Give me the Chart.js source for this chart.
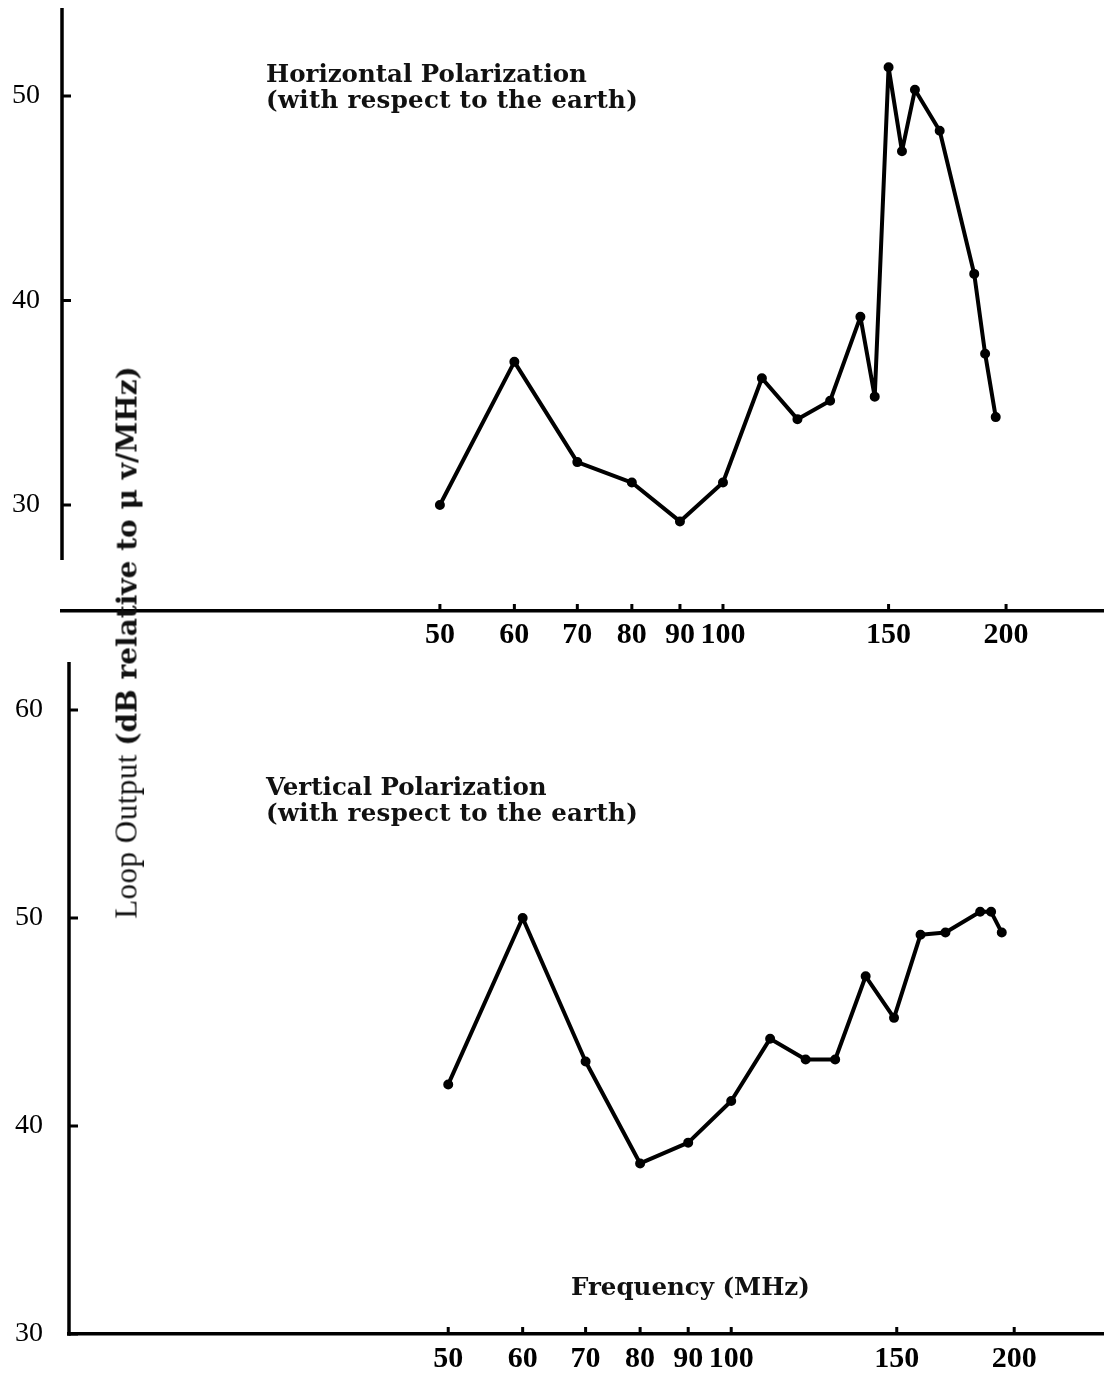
<!DOCTYPE html>
<html>
<head>
<meta charset="utf-8">
<title>Loop Output vs Frequency</title>
<script src="https://cdn.jsdelivr.net/npm/chart.js@4.4.1/dist/chart.umd.min.js"></script>
<style>
  html, body { margin: 0; padding: 0; background: #fff; }
  body { width: 1104px; height: 1373px; position: relative; overflow: hidden; }
  .panel { position: absolute; left: 0; width: 1104px; }
  #topPanel { top: 0; height: 660px; }
  #bottomPanel { top: 640px; height: 733px; }
  .note {
    position: absolute; white-space: nowrap; color: #111;
    font-family: 'DejaVu Serif', serif; font-weight: bold; font-size: 24.5px; line-height: 26px;
  }
  .note .wide { letter-spacing: 0.3px; }
  #yTitle {
    position: absolute; width: 700px; left: -223px; top: 626px; text-align: center;
    transform: rotate(-90deg); white-space: nowrap; color: #111;
    font-family: 'DejaVu Serif', serif; font-size: 28px; line-height: 32px;
  }
  #yTitle .light { font-family: 'Liberation Serif', serif; font-weight: normal; font-size: 31px; letter-spacing: 0.5px; }
  #yTitle .heavy { font-weight: bold; }
</style>
</head>
<body>
<div class="panel" id="topPanel"><canvas id="hChart"></canvas></div>
<div class="panel" id="bottomPanel"><canvas id="vChart"></canvas></div>

<div class="note" style="left:266px; top:61px;">Horizontal Polarization<br><span class="wide">(with respect to the earth)</span></div>
<div class="note" style="left:266px; top:774px;">Vertical Polarization<br><span class="wide">(with respect to the earth)</span></div>
<div class="note" style="left:571px; top:1274px;">Frequency (MHz)</div>
<div id="yTitle"><span class="light">Loop Output </span><span class="heavy">(dB relative to μ v/MHz)</span></div>

<script>
// frequency ticks shared by both panels (MHz)
const freqTicks = [50, 60, 70, 80, 90, 100, 150, 200];

// horizontal polarization
const freqH = [50, 60, 70, 80, 90, 100, 110, 120, 130, 140, 145, 150, 155, 160, 170, 185, 190, 195];
const outputH = [30.0, 37.0, 32.1, 31.1, 29.2, 31.1, 36.2, 34.2, 35.1, 39.2, 35.3, 51.4, 47.3, 50.3, 48.3, 41.3, 37.4, 34.3];
const levelTicksH = [30, 40, 50];

// vertical polarization
const freqV = [50, 60, 70, 80, 90, 100, 110, 120, 129, 139, 149, 159, 169, 184, 189, 194];
const outputV = [42.0, 50.0, 43.1, 38.2, 39.2, 41.2, 44.2, 43.2, 43.2, 47.2, 45.2, 49.2, 49.3, 50.3, 50.3, 49.3];
const levelTicksV = [30, 40, 50, 60];

// left axis line with inward ticks, upward ticks on the frequency axis
const axisMarks = {
  id: 'axisMarks',
  afterDatasetsDraw(chart, args, opts) {
    const { ctx, chartArea } = chart;
    const x = chart.scales.x, y = chart.scales.y;
    const left = chartArea.left, bottom = chartArea.bottom;
    ctx.save();
    ctx.strokeStyle = '#000';
    ctx.lineWidth = 3.5;
    ctx.beginPath();
    ctx.moveTo(left, y.getPixelForValue(opts.spanTop));
    ctx.lineTo(left, y.getPixelForValue(opts.spanBottom) + 1.75);
    ctx.stroke();
    ctx.lineWidth = 3;
    ctx.beginPath();
    y.ticks.forEach(t => {
      const py = y.getPixelForValue(t.value);
      ctx.moveTo(left, py);
      ctx.lineTo(left + 9, py);
    });
    x.ticks.forEach(t => {
      const px = x.getPixelForValue(t.value);
      ctx.moveTo(px, bottom);
      ctx.lineTo(px, bottom - 7);
    });
    ctx.stroke();
    ctx.restore();
  }
};

// keep the plot area exactly where the axes say, no label padding
function pinBox(s, size) {
  if (s.isHorizontal()) s.height = size; else s.width = size;
  s.paddingTop = s.paddingBottom = s.paddingLeft = s.paddingRight = 0;
}

function makeChart(id, freq, output, yTicks, cfg) {
  return new Chart(document.getElementById(id), {
    type: 'line',
    data: {
      datasets: [{
        data: freq.map((f, i) => ({ x: f, y: output[i] })),
        borderColor: '#000',
        backgroundColor: '#000',
        borderWidth: 4,
        borderJoinStyle: 'round',
        pointRadius: 3,
        pointHoverRadius: 3,
        tension: 0
      }]
    },
    plugins: [axisMarks],
    options: {
      responsive: true,
      maintainAspectRatio: false,
      animation: false,
      layout: { autoPadding: false, padding: { top: cfg.padTop, right: 0, left: 0, bottom: 0 } },
      plugins: {
        legend: { display: false },
        tooltip: { enabled: false },
        axisMarks: { spanTop: cfg.yMax, spanBottom: cfg.yAxisEnd }
      },
      scales: {
        x: {
          type: 'logarithmic',
          min: cfg.xMin,
          max: cfg.xMax,
          afterBuildTicks: s => { s.ticks = freqTicks.map(v => ({ value: v })); },
          afterFit: s => pinBox(s, cfg.xHeight),
          grid: { display: false, drawTicks: false },
          border: { display: true, color: '#000', width: 3.5 },
          ticks: {
            autoSkip: false,
            maxRotation: 0,
            padding: cfg.xLabelGap,
            color: '#000',
            font: { family: 'Liberation Serif', size: 30, weight: 'bold' },
            callback: v => String(v)
          }
        },
        y: {
          min: cfg.yMin,
          max: cfg.yMax,
          afterBuildTicks: s => { s.ticks = yTicks.map(v => ({ value: v })); },
          afterFit: s => pinBox(s, cfg.yWidth),
          grid: { display: false, drawTicks: false },
          border: { display: false },
          ticks: {
            padding: cfg.yLabelGap,
            color: '#000',
            font: { family: 'Liberation Serif', size: 28 },
            callback: v => String(v)
          }
        }
      }
    }
  });
}

makeChart('hChart', freqH, outputH, levelTicksH, {
  padTop: 8, xHeight: 49, yWidth: 62, yLabelGap: 22, xLabelGap: 6,
  xMin: 19.82, xMax: 254.2,
  yMin: 24.82, yMax: 54.3, yAxisEnd: 27.4
});

makeChart('vChart', freqV, outputV, levelTicksV, {
  padTop: 22, xHeight: 39, yWidth: 69, yLabelGap: 26, xLabelGap: 7,
  xMin: 19.75, xMax: 249.2,
  yMin: 30, yMax: 62.31, yAxisEnd: 30
});
</script>
</body>
</html>
